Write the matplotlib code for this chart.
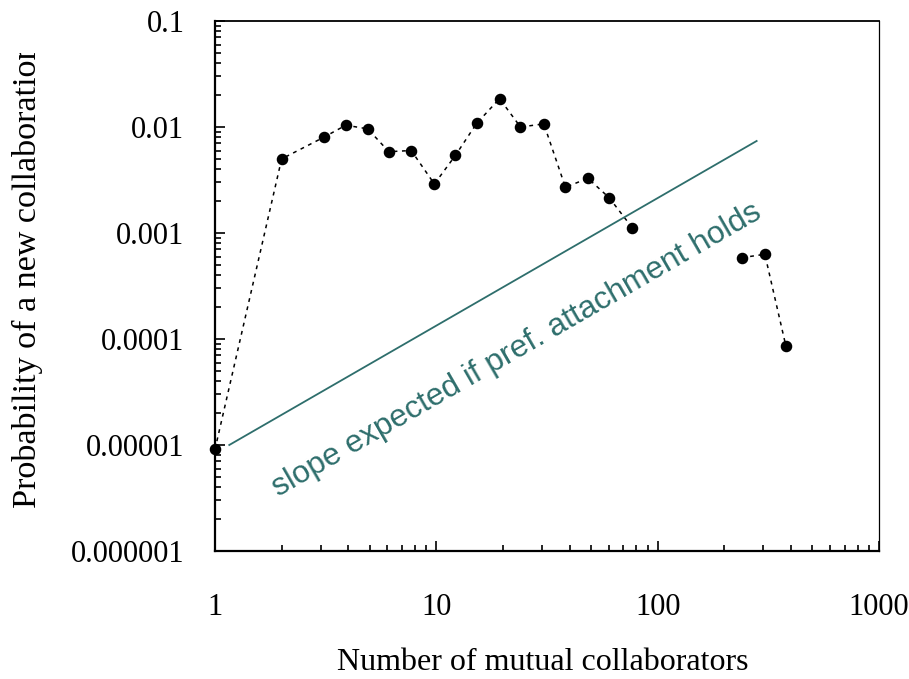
import numpy as np
import matplotlib
matplotlib.use("Agg")
import matplotlib.pyplot as plt
from matplotlib.ticker import FixedLocator, FixedFormatter, LogLocator, NullFormatter
from matplotlib.transforms import Bbox, TransformedBbox

# data
x_main = [1, 2, 3.1, 3.9, 4.9, 6.1, 7.7, 9.8, 12.2, 15.2, 19.3, 24, 30.6,
          38.3, 48.4, 60.4, 76.8]
y_main = [9.1e-6, 0.005, 0.008, 0.0104, 0.0096, 0.00585, 0.006, 0.0029,
          0.0054, 0.0108, 0.0185, 0.0100, 0.0107, 0.0027, 0.00328, 0.00215,
          0.00112]
x_tail = [240, 305, 380]
y_tail = [0.000585, 0.00063, 8.5e-5]

x_slope = [1.16, 280]
y_slope = [1e-5, 0.00738]

x_ticks = [1, 10, 100, 1000]
x_labels = ['1', '10', '100', '1000']
y_ticks = [1e-6, 1e-5, 1e-4, 1e-3, 1e-2, 1e-1]
y_labels = ['0.000001', '0.00001', '0.0001', '0.001', '0.01', '0.1']

teal = '#2E6E6C'
serif = ['Liberation Serif', 'DejaVu Serif']

fig = plt.figure(figsize=(9.09, 6.79), dpi=100)
ax = fig.add_axes([215/909, 1-551/679, 664/909, 530/679])

ax.set_xscale('log')
ax.set_yscale('log')
ax.set_xlim(1, 1000)
ax.set_ylim(1e-6, 0.1)

line_kw = dict(color='black', linestyle=(0, (2.5, 3)), linewidth=1.1,
               marker='o', markersize=7.3, clip_on=False)
ax.plot(x_main, y_main, **line_kw)
ax.plot(x_tail, y_tail, **line_kw)

ax.plot(x_slope, y_slope, color=teal, linewidth=1.3)
ax.text(0.455, 0.379, 'slope expected if pref. attachment holds',
        transform=ax.transAxes, rotation=30, rotation_mode='anchor',
        ha='center', va='center', color=teal, fontsize=22.8,
        family=['Liberation Sans', 'DejaVu Sans'])

# ticks
ax.xaxis.set_major_locator(FixedLocator(x_ticks))
ax.xaxis.set_major_formatter(FixedFormatter(x_labels))
ax.yaxis.set_major_locator(FixedLocator(y_ticks))
ax.yaxis.set_major_formatter(FixedFormatter(y_labels))
ax.xaxis.set_minor_locator(LogLocator(base=10, subs=np.arange(2, 10)))
ax.yaxis.set_minor_locator(LogLocator(base=10, subs=np.arange(2, 10)))
ax.xaxis.set_minor_formatter(NullFormatter())
ax.yaxis.set_minor_formatter(NullFormatter())

ax.tick_params(which='both', direction='in', top=False, right=False,
               width=1.2, color='black')
ax.tick_params(which='major', length=7.5)
ax.tick_params(which='minor', length=4.5)
ax.tick_params(axis='x', which='major', pad=30, labelsize=22)
ax.tick_params(axis='y', which='major', pad=22, labelsize=22)
for lab in ax.get_xticklabels() + ax.get_yticklabels():
    lab.set_family(serif)

ax.spines['left'].set_linewidth(1.6)
ax.spines['bottom'].set_linewidth(1.6)
ax.spines['top'].set_linewidth(1.3)
ax.spines['right'].set_linewidth(0.9)

fig.text(543/909, 1-663/679, 'Number of mutual collaborators',
         ha='center', va='center', fontsize=23, family=serif)

# y label is cut off near the top in the reference
ylab = fig.text(27/909, 1-508/679, 'Probability of a new collaboration',
                rotation=90, ha='center', va='bottom', fontsize=24.6,
                family=serif)
ylab.set_clip_on(True)
ylab.set_clip_box(TransformedBbox(Bbox([[0, 0], [1, 1-53/679]]),
                                  fig.transFigure))

fig.savefig('out.png', dpi=100)
